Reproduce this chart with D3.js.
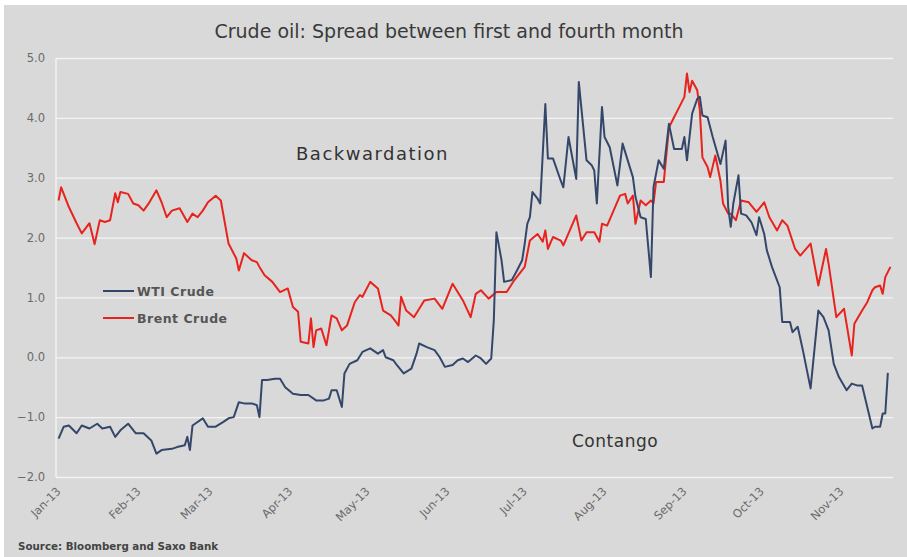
<!DOCTYPE html>
<html>
<head>
<meta charset="utf-8">
<title>Crude oil spread</title>
<script src="https://d3js.org/d3.v7.min.js"></script>
<style>
  body { margin: 0; background: #fff; }
  .axis text { font-family: "DejaVu Sans", sans-serif; font-size: 11.5px; fill: #6a6a6a; }
  .axis .domain { display: none; }
  .grid line { stroke: #f4f4f4; stroke-width: 1.3; }
</style>
</head>
<body>
<script>
// spread first vs fourth month, USD/bbl
var brentDates = ["2013-01-02","2013-01-03","2013-01-06","2013-01-09","2013-01-11","2013-01-14","2013-01-16","2013-01-18","2013-01-20","2013-01-22",
  "2013-01-24","2013-01-25","2013-01-26","2013-01-29","2013-01-31","2013-02-02","2013-02-04","2013-02-06","2013-02-09","2013-02-11",
  "2013-02-13","2013-02-15","2013-02-18","2013-02-21","2013-02-23","2013-02-25","2013-02-27","2013-03-01","2013-03-04","2013-03-06",
  "2013-03-09","2013-03-12","2013-03-13","2013-03-15","2013-03-18","2013-03-20","2013-03-21","2013-03-23","2013-03-26","2013-03-29",
  "2013-04-01","2013-04-03","2013-04-05","2013-04-06","2013-04-09","2013-04-10","2013-04-11","2013-04-12","2013-04-14","2013-04-16",
  "2013-04-18","2013-04-20","2013-04-22","2013-04-24","2013-04-27","2013-04-29","2013-04-30","2013-05-03","2013-05-06","2013-05-08",
  "2013-05-11","2013-05-13","2013-05-14","2013-05-15","2013-05-17","2013-05-20","2013-05-24","2013-05-28","2013-05-31","2013-06-04",
  "2013-06-08","2013-06-11","2013-06-13","2013-06-15","2013-06-18","2013-06-21","2013-06-25","2013-06-28","2013-07-02","2013-07-04",
  "2013-07-07","2013-07-09","2013-07-10","2013-07-11","2013-07-13","2013-07-16","2013-07-17","2013-07-22","2013-07-24","2013-07-26",
  "2013-07-29","2013-07-31","2013-08-01","2013-08-03","2013-08-05","2013-08-08","2013-08-10","2013-08-11","2013-08-13","2013-08-14",
  "2013-08-16","2013-08-18","2013-08-20","2013-08-21","2013-08-22","2013-08-25","2013-08-27","2013-08-29","2013-08-31","2013-09-02",
  "2013-09-03","2013-09-04","2013-09-05","2013-09-07","2013-09-08","2013-09-09","2013-09-11","2013-09-12","2013-09-14","2013-09-16",
  "2013-09-17","2013-09-19","2013-09-20","2013-09-22","2013-09-24","2013-09-27","2013-09-30","2013-10-03","2013-10-05","2013-10-08",
  "2013-10-10","2013-10-12","2013-10-15","2013-10-17","2013-10-21","2013-10-24","2013-10-27","2013-10-28","2013-10-31","2013-11-03",
  "2013-11-06","2013-11-07","2013-11-10","2013-11-12","2013-11-14","2013-11-15","2013-11-17","2013-11-18","2013-11-19","2013-11-21"];
var brentValues = [2.62,2.84,2.51,2.24,2.07,2.24,1.89,2.29,2.26,2.29,
  2.74,2.59,2.76,2.73,2.57,2.54,2.45,2.57,2.79,2.59,
  2.34,2.45,2.49,2.26,2.40,2.34,2.45,2.59,2.70,2.62,
  1.90,1.65,1.45,1.74,1.62,1.59,1.51,1.37,1.26,1.09,
  1.15,0.84,0.76,0.26,0.23,0.65,0.17,0.45,0.48,0.20,
  0.70,0.65,0.45,0.53,0.92,1.04,1.01,1.26,1.15,0.78,
  0.70,0.59,0.53,1.01,0.78,0.67,0.95,0.98,0.81,1.23,
  0.95,0.67,1.06,1.12,0.98,1.09,1.09,1.29,1.51,1.95,
  2.06,1.93,2.12,1.81,2.01,1.95,1.87,2.37,1.95,2.09,
  2.09,1.93,2.23,2.20,2.40,2.70,2.73,2.57,2.70,2.23,
  2.62,2.54,2.62,2.57,2.93,2.93,3.84,4.01,4.18,4.35,
  4.74,4.43,4.62,4.46,4.12,3.34,3.18,3.01,3.37,2.95,
  2.57,2.40,2.40,2.29,2.62,2.59,2.43,2.59,2.34,2.12,
  2.29,2.20,1.81,1.70,1.90,1.20,1.81,1.56,0.67,0.81,
  0.03,0.56,0.78,0.92,1.12,1.17,1.20,1.06,1.34,1.51];

var wtiDates = ["2013-01-02","2013-01-04","2013-01-06","2013-01-09","2013-01-11","2013-01-14","2013-01-17","2013-01-19","2013-01-22","2013-01-24",
  "2013-01-26","2013-01-29","2013-02-01","2013-02-04","2013-02-07","2013-02-09","2013-02-11","2013-02-15","2013-02-17","2013-02-20",
  "2013-02-21","2013-02-22","2013-02-23","2013-02-24","2013-02-27","2013-03-01","2013-03-04","2013-03-07","2013-03-09","2013-03-11",
  "2013-03-13","2013-03-15","2013-03-18","2013-03-20","2013-03-21","2013-03-22","2013-03-24","2013-03-27","2013-03-29","2013-03-31",
  "2013-04-03","2013-04-06","2013-04-09","2013-04-12","2013-04-15","2013-04-17","2013-04-18","2013-04-20","2013-04-22","2013-04-23",
  "2013-04-25","2013-04-28","2013-04-30","2013-05-03","2013-05-06","2013-05-08","2013-05-09","2013-05-12","2013-05-13","2013-05-16",
  "2013-05-19","2013-05-21","2013-05-22","2013-05-25","2013-05-28","2013-05-30","2013-06-01","2013-06-04","2013-06-06","2013-06-08",
  "2013-06-10","2013-06-13","2013-06-15","2013-06-17","2013-06-19","2013-06-20","2013-06-21","2013-06-23","2013-06-24","2013-06-27",
  "2013-06-29","2013-07-01","2013-07-02","2013-07-03","2013-07-04","2013-07-05","2013-07-07","2013-07-08","2013-07-10","2013-07-11",
  "2013-07-13","2013-07-16","2013-07-17","2013-07-19","2013-07-22","2013-07-23","2013-07-26","2013-07-28","2013-07-29","2013-07-30",
  "2013-08-01","2013-08-02","2013-08-04","2013-08-07","2013-08-09","2013-08-11","2013-08-13","2013-08-14","2013-08-16","2013-08-18",
  "2013-08-20","2013-08-21","2013-08-23","2013-08-25","2013-08-27","2013-08-29","2013-09-01","2013-09-02","2013-09-03","2013-09-05",
  "2013-09-07","2013-09-08","2013-09-09","2013-09-11","2013-09-13","2013-09-16","2013-09-18","2013-09-19","2013-09-20","2013-09-21",
  "2013-09-23","2013-09-24","2013-09-26","2013-09-28","2013-09-30","2013-10-01","2013-10-03","2013-10-04","2013-10-06","2013-10-09",
  "2013-10-10","2013-10-13","2013-10-14","2013-10-16","2013-10-18","2013-10-21","2013-10-24","2013-10-26","2013-10-28","2013-10-30",
  "2013-11-01","2013-11-04","2013-11-06","2013-11-08","2013-11-10","2013-11-12","2013-11-14","2013-11-15","2013-11-17","2013-11-18",
  "2013-11-19","2013-11-20"];
var wtiValues = [-1.36,-1.16,-1.14,-1.27,-1.14,-1.19,-1.11,-1.19,-1.16,-1.33,
  -1.22,-1.11,-1.27,-1.27,-1.39,-1.61,-1.55,-1.53,-1.50,-1.47,
  -1.33,-1.55,-1.14,-1.11,-1.02,-1.16,-1.16,-1.08,-1.02,-1.00,
  -0.75,-0.77,-0.77,-0.80,-1.00,-0.38,-0.38,-0.36,-0.36,-0.50,
  -0.61,-0.63,-0.63,-0.72,-0.72,-0.69,-0.55,-0.55,-0.83,-0.27,
  -0.11,-0.05,0.09,0.15,0.06,0.12,0.00,-0.05,-0.11,-0.27,
  -0.19,0.06,0.23,0.17,0.12,0.00,-0.16,-0.13,-0.05,-0.02,
  -0.08,0.03,-0.02,-0.11,-0.02,0.62,2.09,1.62,1.26,1.29,
  1.45,1.62,1.90,2.23,2.34,2.76,2.65,2.57,4.23,3.32,
  3.32,2.95,2.84,3.68,2.98,4.60,3.29,3.21,3.12,2.57,
  4.18,3.68,3.51,2.87,3.57,3.29,3.01,2.68,2.34,2.31,
  1.34,2.84,3.29,3.15,3.90,3.48,3.48,3.68,3.29,4.07,
  4.32,4.35,4.04,4.01,3.68,3.23,3.62,2.51,2.18,2.57,
  3.04,2.40,2.37,2.26,2.04,2.34,2.06,1.79,1.51,1.17,
  0.59,0.59,0.42,0.51,0.12,-0.52,0.78,0.67,0.45,-0.11,
  -0.33,-0.55,-0.44,-0.47,-0.47,-0.83,-1.19,-1.16,-1.16,-0.94,
  -0.94,-0.26];

var yTicks = [-2, -1, 0, 1, 2, 3, 4, 5];

var width = 907, height = 557;
var plotLeft = 56, plotRight = 893, plotTop = 58, plotBottom = 477;

var parse = d3.timeParse("%Y-%m-%d");
var brent = brentDates.map(function(d, i) { return { date: parse(d), value: brentValues[i] }; });
var wti = wtiDates.map(function(d, i) { return { date: parse(d), value: wtiValues[i] }; });

var svg = d3.select("body").append("svg")
  .attr("width", width)
  .attr("height", height);

svg.append("rect")
  .attr("x", 4).attr("y", 5)
  .attr("width", width - 4).attr("height", height - 5)
  .attr("fill", "#d9d9d9");

var x = d3.scaleTime()
  .domain([parse("2013-01-01"), parse("2013-11-22")])
  .range([plotLeft, plotRight]);

var y = d3.scaleLinear()
  .domain([-2, 5])
  .range([plotBottom, plotTop]);

// gridlines + y labels
svg.append("g")
  .attr("class", "axis grid")
  .attr("transform", "translate(" + plotLeft + ",0)")
  .call(d3.axisLeft(y).tickValues(yTicks).tickFormat(d3.format(".1f")).tickSize(-(plotRight - plotLeft)).tickPadding(11));

svg.append("line")
  .attr("x1", plotLeft).attr("x2", plotLeft)
  .attr("y1", plotTop).attr("y2", plotBottom)
  .attr("stroke", "#f4f4f4").attr("stroke-width", 1.3);

// months along the bottom
var xAxis = svg.append("g")
  .attr("class", "axis")
  .attr("transform", "translate(0," + plotBottom + ")")
  .call(d3.axisBottom(x).ticks(d3.timeMonth.every(1)).tickFormat(d3.timeFormat("%b-%y")).tickSize(0));

xAxis.selectAll("text")
  .attr("text-anchor", "end")
  .attr("dy", null)
  .attr("y", null)
  .attr("transform", "translate(5,15) rotate(-45)");

var line = d3.line()
  .x(function(d) { return x(d.date); })
  .y(function(d) { return y(d.value); });

svg.append("path")
  .datum(brent)
  .attr("d", line)
  .attr("fill", "none")
  .attr("stroke", "#e8231d")
  .attr("stroke-width", 2)
  .attr("stroke-linejoin", "round");

svg.append("path")
  .datum(wti)
  .attr("d", line)
  .attr("fill", "none")
  .attr("stroke", "#34476a")
  .attr("stroke-width", 2)
  .attr("stroke-linejoin", "round");

// title and notes
svg.append("text")
  .attr("x", 449).attr("y", 38)
  .attr("text-anchor", "middle")
  .attr("font-family", "DejaVu Sans, sans-serif")
  .attr("font-size", 19)
  .attr("fill", "#3a3a3a")
  .text("Crude oil: Spread between first and fourth month");

svg.append("text")
  .attr("x", 296).attr("y", 160)
  .attr("font-family", "DejaVu Sans, sans-serif")
  .attr("font-size", 18)
  .attr("letter-spacing", 1.5)
  .attr("fill", "#333")
  .text("Backwardation");

svg.append("text")
  .attr("x", 572).attr("y", 447)
  .attr("font-family", "DejaVu Sans, sans-serif")
  .attr("font-size", 17)
  .attr("letter-spacing", 0.5)
  .attr("fill", "#333")
  .text("Contango");

var legend = [
  { name: "WTI Crude", color: "#34476a" },
  { name: "Brent Crude", color: "#e8231d" }
];

var lg = svg.append("g").selectAll("g")
  .data(legend)
  .enter().append("g")
  .attr("transform", function(d, i) { return "translate(103," + (291 + i * 27) + ")"; });

lg.append("line")
  .attr("x1", 0).attr("x2", 31)
  .attr("stroke", function(d) { return d.color; })
  .attr("stroke-width", 2);

lg.append("text")
  .attr("x", 34).attr("y", 4.5)
  .attr("font-family", "DejaVu Sans, sans-serif")
  .attr("font-size", 12.5)
  .attr("font-weight", "bold")
  .attr("letter-spacing", 0.5)
  .attr("fill", "#555")
  .text(function(d) { return d.name; });

svg.append("text")
  .attr("x", 18).attr("y", 550)
  .attr("font-family", "DejaVu Sans, sans-serif")
  .attr("font-size", 10.3)
  .attr("font-weight", "bold")
  .attr("fill", "#444")
  .text("Source: Bloomberg and Saxo Bank");
</script>
</body>
</html>
